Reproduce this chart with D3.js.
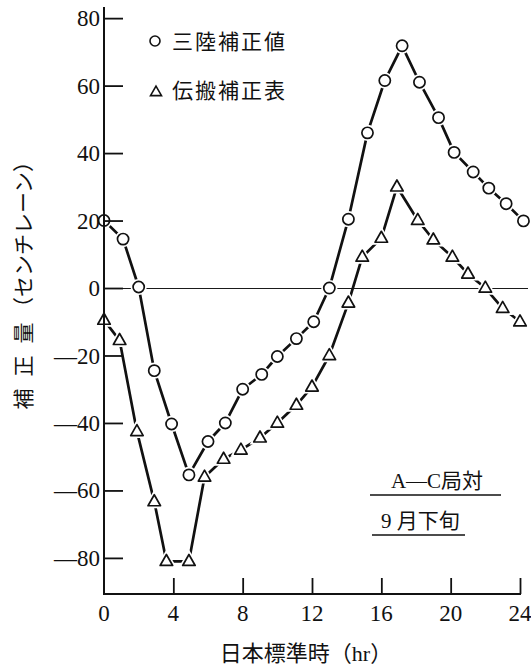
<!DOCTYPE html>
<html>
<head>
<meta charset="utf-8">
<script src="https://cdn.jsdelivr.net/npm/d3@7"></script>
<style>
  html, body { margin: 0; padding: 0; background: #fff; }
  svg { display: block; }
  text { font-family: "Liberation Serif", "Noto Sans CJK JP", serif; fill: #111; }
</style>
</head>
<body>
<svg id="chart" width="531" height="668"></svg>
<script>
// Hourly correction values (centi-lane), A–C station pair, late September
const sanrikuHours = [0, 1.1, 2, 2.9, 3.9, 4.9, 6, 7, 8, 9.1, 10, 11.1, 12.1, 13, 14.1, 15.2, 16.2, 17.2, 18.2, 19.3, 20.2, 21.3, 22.2, 23.2, 24.2];
const sanrikuValues = [20, 14.5, 0.3, -24.5, -40.3, -55.4, -45.5, -40, -30, -25.6, -20.3, -15, -10, 0, 20.4, 46, 61.5, 71.8, 61, 50.5, 40.2, 34.4, 29.6, 25, 19.9];

const denpanHours = [0, 0.9, 1.9, 2.9, 3.6, 4.9, 5.8, 6.9, 7.9, 9, 10, 11.1, 12, 13, 14.1, 14.9, 16, 16.9, 18.1, 19, 20.1, 21, 22, 23, 24];
const denpanValues = [-9.5, -15.5, -42.5, -63.3, -81, -81, -56, -50.7, -48, -44.4, -40, -34.7, -29.3, -20, -4.4, 9.2, 14.8, 30, 20.1, 14.3, 9.2, 4.2, 0, -6, -10];

const xTicks = [0, 4, 8, 12, 16, 20, 24];
const yTicks = [80, 60, 40, 20, 0, -20, -40, -60, -80];

const legendLabels = ["三陸補正値", "伝搬補正表"];
const noteLines = ["A—C局対", "9 月下旬"];
const xTitle = "日本標準時（hr）";
const yTitleMain = ["補", "正", "量"];
const yTitleUnit = "（センチレーン）";

const svg = d3.select("#chart");

const x = d3.scaleLinear().domain([0, 24]).range([104, 520]);
const y = d3.scaleLinear().domain([-90.7, 83.3]).range([594, 7]);

const ink = "#111";

// zero reference line
svg.append("line")
  .attr("x1", x(0)).attr("x2", x(24.45))
  .attr("y1", y(0) + 0.5).attr("y2", y(0) + 0.5)
  .attr("stroke", "#1a1a1a").attr("stroke-width", 1)
  .attr("shape-rendering", "crispEdges");

const line = d3.line().x(d => x(d[0])).y(d => y(d[1]));
const circleData = d3.zip(sanrikuHours, sanrikuValues);
const triData = d3.zip(denpanHours, denpanValues);

[circleData, triData].forEach(data => {
  svg.append("path")
    .datum(data)
    .attr("d", line)
    .attr("fill", "none")
    .attr("stroke", ink)
    .attr("stroke-width", 2.7)
    .attr("stroke-linejoin", "round");
});

const triPath = (w, h) => `M0,${-h * 0.62}L${w / 2},${h * 0.38}L${-w / 2},${h * 0.38}Z`;

// white halos leave a small gap between the lines and each marker
const marks = svg.append("g");
marks.selectAll("circle.halo").data(circleData).join("circle")
  .attr("cx", d => x(d[0])).attr("cy", d => y(d[1])).attr("r", 5.6)
  .attr("fill", "#fff").attr("stroke", "#fff").attr("stroke-width", 5);
marks.selectAll("path.halo").data(triData).join("path")
  .attr("transform", d => `translate(${x(d[0])},${y(d[1])})`)
  .attr("d", triPath(12.5, 11))
  .attr("fill", "#fff").attr("stroke", "#fff").attr("stroke-width", 5);

marks.selectAll("circle.m").data(circleData).join("circle")
  .attr("cx", d => x(d[0])).attr("cy", d => y(d[1])).attr("r", 5.6)
  .attr("fill", "#fff").attr("stroke", ink).attr("stroke-width", 1.7);
marks.selectAll("path.m").data(triData).join("path")
  .attr("transform", d => `translate(${x(d[0])},${y(d[1])})`)
  .attr("d", triPath(12.5, 11))
  .attr("fill", "#fff").attr("stroke", ink).attr("stroke-width", 1.7)
  .attr("stroke-linejoin", "round");

// axes
const yAxis = d3.axisRight(y).tickValues(yTicks).tickSize(19).tickFormat("");
const gy = svg.append("g").attr("transform", `translate(${x(0)},0)`).call(yAxis);
gy.select(".domain").remove();
gy.selectAll(".tick line").attr("stroke", ink).attr("stroke-width", 1.8);

const xAxis = d3.axisTop(x).tickValues(xTicks.filter(v => v > 0)).tickSize(16).tickFormat("");
const gx = svg.append("g").attr("transform", `translate(0,${y(-90.7)})`).call(xAxis);
gx.select(".domain").remove();
gx.selectAll(".tick line").attr("stroke", ink).attr("stroke-width", 1.8);

svg.append("line")
  .attr("x1", x(0)).attr("x2", x(0))
  .attr("y1", y(83.3)).attr("y2", y(-90.7))
  .attr("stroke", ink).attr("stroke-width", 2);
svg.append("line")
  .attr("x1", x(0) - 1).attr("x2", x(24) + 1)
  .attr("y1", y(-90.7)).attr("y2", y(-90.7))
  .attr("stroke", ink).attr("stroke-width", 2);

// tick labels
svg.append("g").selectAll("text").data(yTicks).join("text")
  .attr("x", 100).attr("y", d => y(d))
  .attr("dy", "0.35em")
  .attr("text-anchor", "end")
  .attr("font-size", 23)
  .text(d => d < 0 ? "—" + Math.abs(d) : String(d));

svg.append("g").selectAll("text").data(xTicks).join("text")
  .attr("x", d => x(d)).attr("y", 621)
  .attr("text-anchor", "middle")
  .attr("font-size", 23)
  .text(d => String(d));

// axis titles
svg.append("text")
  .attr("x", 306).attr("y", 661)
  .attr("text-anchor", "middle")
  .attr("font-size", 22)
  .text(xTitle);

// vertical title: spaced characters, then the unit in parentheses
const yTitle = svg.append("g").attr("transform", "translate(31,0) rotate(-90)");
yTitle.selectAll("text.c").data(yTitleMain).join("text")
  .attr("x", (d, i) => -399 + i * 33)
  .attr("y", 0)
  .attr("text-anchor", "middle")
  .attr("font-size", 21)
  .text(d => d);
yTitle.append("text")
  .attr("x", -318).attr("y", 0)
  .attr("font-size", 21)
  .text(yTitleUnit);

// legend
const legend = svg.append("g");
legend.append("circle").attr("cx", 155).attr("cy", 41).attr("r", 5)
  .attr("fill", "#fff").attr("stroke", ink).attr("stroke-width", 1.6);
legend.append("path").attr("transform", "translate(156,92)").attr("d", triPath(11, 9.5))
  .attr("fill", "#fff").attr("stroke", ink).attr("stroke-width", 1.6);
legend.selectAll("text").data(legendLabels).join("text")
  .attr("x", 172).attr("y", (d, i) => [41, 90][i])
  .attr("dy", "0.36em")
  .attr("font-size", 21)
  .attr("letter-spacing", "2px")
  .text(d => d);

// station / period note
svg.append("text").attr("x", 437).attr("y", 488).attr("text-anchor", "middle")
  .attr("font-size", 21).text(noteLines[0]);
svg.append("line").attr("x1", 370).attr("x2", 501).attr("y1", 495).attr("y2", 495)
  .attr("stroke", ink).attr("stroke-width", 1.6);
svg.append("text").attr("x", 381).attr("y", 528)
  .attr("font-size", 21).text(noteLines[1]);
svg.append("line").attr("x1", 372).attr("x2", 465).attr("y1", 535).attr("y2", 535)
  .attr("stroke", ink).attr("stroke-width", 1.6);
</script>
</body>
</html>
